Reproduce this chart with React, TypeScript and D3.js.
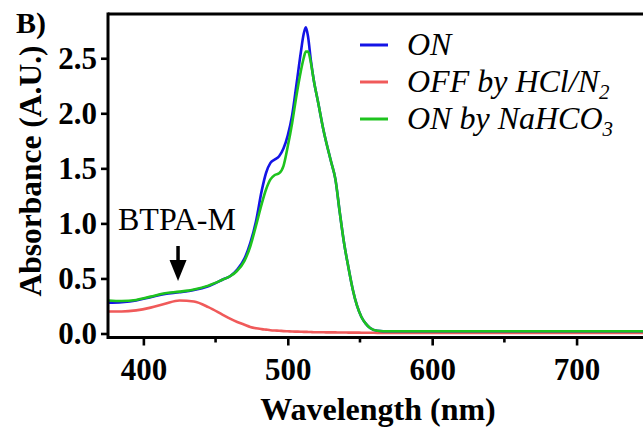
import React, { useEffect, useRef } from "react";
import * as d3 from "d3";

// wavelength grid (nm) shared by the three spectra
const wavelengths = [375, 385, 395, 405, 415, 425, 435, 445, 455, 460, 465, 470, 474, 478, 482, 485, 488, 491, 494, 497, 500, 503, 506, 509, 511, 512.5, 514, 516, 518, 521, 525, 530, 533, 536, 539, 542, 545, 548, 551, 554, 557, 562, 570, 600, 650, 700, 750];

const onAbs = [0.28, 0.285, 0.3, 0.33, 0.36, 0.375, 0.395, 0.43, 0.49, 0.52, 0.58, 0.68, 0.82, 1.02, 1.3, 1.46, 1.55, 1.58, 1.61, 1.68, 1.8, 1.98, 2.26, 2.55, 2.72, 2.78, 2.7, 2.48, 2.3, 2.1, 1.83, 1.56, 1.4, 1.1, 0.82, 0.6, 0.4, 0.25, 0.15, 0.09, 0.05, 0.025, 0.02, 0.02, 0.02, 0.02, 0.02];

const offAbs = [0.2, 0.2, 0.21, 0.235, 0.27, 0.3, 0.29, 0.24, 0.17, 0.135, 0.105, 0.08, 0.06, 0.048, 0.04, 0.035, 0.03, 0.027, 0.025, 0.022, 0.02, 0.018, 0.017, 0.016, 0.015, 0.015, 0.014, 0.013, 0.012, 0.012, 0.011, 0.01, 0.01, 0.009, 0.009, 0.008, 0.008, 0.008, 0.007, 0.007, 0.007, 0.006, 0.006, 0.005, 0.005, 0.005, 0.005];

const onNaAbs = [0.3, 0.295, 0.305, 0.335, 0.365, 0.38, 0.4, 0.435, 0.49, 0.52, 0.57, 0.66, 0.79, 0.98, 1.18, 1.31, 1.4, 1.44, 1.455, 1.52, 1.7, 1.91, 2.16, 2.38, 2.5, 2.56, 2.56, 2.46, 2.3, 2.1, 1.83, 1.56, 1.4, 1.1, 0.82, 0.6, 0.4, 0.25, 0.15, 0.09, 0.05, 0.025, 0.02, 0.02, 0.02, 0.02, 0.02];

const yTicks = [0, 0.5, 1.0, 1.5, 2.0, 2.5];
const xTicks = [400, 500, 600, 700];
const xMinorTicks = [450, 550, 650];

const series = [
  { name: "ON", sub: "", values: onAbs, color: "#1414e6" },
  { name: "OFF by HCl/N", sub: "2", values: offAbs, color: "#f05a5a" },
  { name: "ON by NaHCO", sub: "3", values: onNaAbs, color: "#1ec31e" },
];

const W = 643;
const H = 429;
const left = 108;
const top = 14;
const axisY = 337.5;
const font = "'Liberation Serif', 'Times New Roman', serif";

export default function App() {
  const ref = useRef<SVGSVGElement>(null);

  useEffect(() => {
    const svg = d3.select(ref.current);
    svg.selectAll("*").remove();

    const x = d3.scaleLinear().domain([375.5, 746]).range([left, W]);
    const y = d3.scaleLinear().domain([0, 2.9]).range([333.5, 14.2]);

    svg.append("clipPath").attr("id", "plot-clip")
      .append("rect").attr("x", left).attr("y", top).attr("width", W - left).attr("height", axisY - top);

    const line = d3.line<number>()
      .x((d, i) => x(wavelengths[i]))
      .y(d => y(d))
      .curve(d3.curveMonotoneX);

    // red first, green on top
    const order = [series[1], series[0], series[2]];
    svg.append("g").attr("clip-path", "url(#plot-clip)")
      .selectAll("path")
      .data(order)
      .enter()
      .append("path")
      .attr("d", d => line(d.values))
      .attr("fill", "none")
      .attr("stroke", d => d.color)
      .attr("stroke-width", 2.6)
      .attr("stroke-linejoin", "round");

    // y axis
    const yAxis = svg.append("g")
      .attr("transform", `translate(${left},0)`)
      .call(d3.axisLeft(y).tickValues(yTicks).tickFormat(d3.format(".1f")).tickSize(7).tickPadding(4).tickSizeOuter(0));
    yAxis.select(".domain").remove();

    // x axis
    const xAxis = svg.append("g")
      .attr("transform", `translate(0,${axisY})`)
      .call(d3.axisBottom(x).tickValues(xTicks).tickFormat(d3.format("d")).tickSize(8).tickPadding(12).tickSizeOuter(0));
    xAxis.select(".domain").remove();
    xAxis.selectAll(".minor")
      .data(xMinorTicks)
      .enter()
      .append("line")
      .attr("x1", d => x(d)).attr("x2", d => x(d))
      .attr("y1", 0).attr("y2", 5)
      .attr("stroke", "#000").attr("stroke-width", 2.6);

    [yAxis, xAxis].forEach(g => {
      g.selectAll("line").attr("stroke", "#000").attr("stroke-width", 2.6);
      g.selectAll("text")
        .attr("fill", "#000")
        .style("font-family", font)
        .style("font-size", "31px")
        .style("font-weight", "bold");
    });

    // frame lines
    svg.append("line").attr("x1", left).attr("x2", left).attr("y1", top - 1.5).attr("y2", axisY + 1.5)
      .attr("stroke", "#000").attr("stroke-width", 3);
    svg.append("line").attr("x1", left).attr("x2", W).attr("y1", axisY).attr("y2", axisY)
      .attr("stroke", "#000").attr("stroke-width", 3);
    svg.append("line").attr("x1", left).attr("x2", W).attr("y1", top).attr("y2", top)
      .attr("stroke", "#000").attr("stroke-width", 3);

    // axis titles
    svg.append("text")
      .attr("x", 378).attr("y", 420)
      .attr("text-anchor", "middle")
      .style("font-family", font).style("font-size", "32px").style("font-weight", "bold")
      .text("Wavelength (nm)");
    svg.append("text")
      .attr("transform", "translate(41,171) rotate(-90)")
      .attr("text-anchor", "middle")
      .style("font-family", font).style("font-size", "31.5px").style("font-weight", "bold")
      .text("Absorbance (A.U.)");

    // panel label
    svg.append("text")
      .attr("x", 16).attr("y", 33)
      .style("font-family", font).style("font-size", "30px").style("font-weight", "bold")
      .text("B)");

    // annotation
    svg.append("text")
      .attr("x", 118).attr("y", 230)
      .style("font-family", font).style("font-size", "32px")
      .text("BTPA-M");
    const ax = x(424);
    svg.append("line").attr("x1", ax).attr("x2", ax).attr("y1", 246).attr("y2", 266)
      .attr("stroke", "#000").attr("stroke-width", 3.5);
    svg.append("path")
      .attr("d", `M${ax - 8.5},260 L${ax + 8.5},260 L${ax},281 Z`)
      .attr("fill", "#000");

    // legend
    const leg = svg.append("g");
    series.forEach((s, i) => {
      const ly = 45 + i * 37;
      leg.append("line").attr("x1", 360).attr("x2", 388).attr("y1", ly).attr("y2", ly)
        .attr("stroke", s.color).attr("stroke-width", 3);
      const t = leg.append("text")
        .attr("x", 407).attr("y", ly + 10)
        .style("font-family", font).style("font-size", "32px").style("font-style", "italic");
      t.append("tspan").text(s.name);
      if (s.sub) {
        t.append("tspan").attr("dy", 7).style("font-size", "21px").text(s.sub);
      }
    });
  }, []);

  return (
    <div style={{ position: "absolute", left: 0, top: 0, background: "#fff" }}>
      <svg ref={ref} width={W} height={H} style={{ display: "block" }} />
    </div>
  );
}
